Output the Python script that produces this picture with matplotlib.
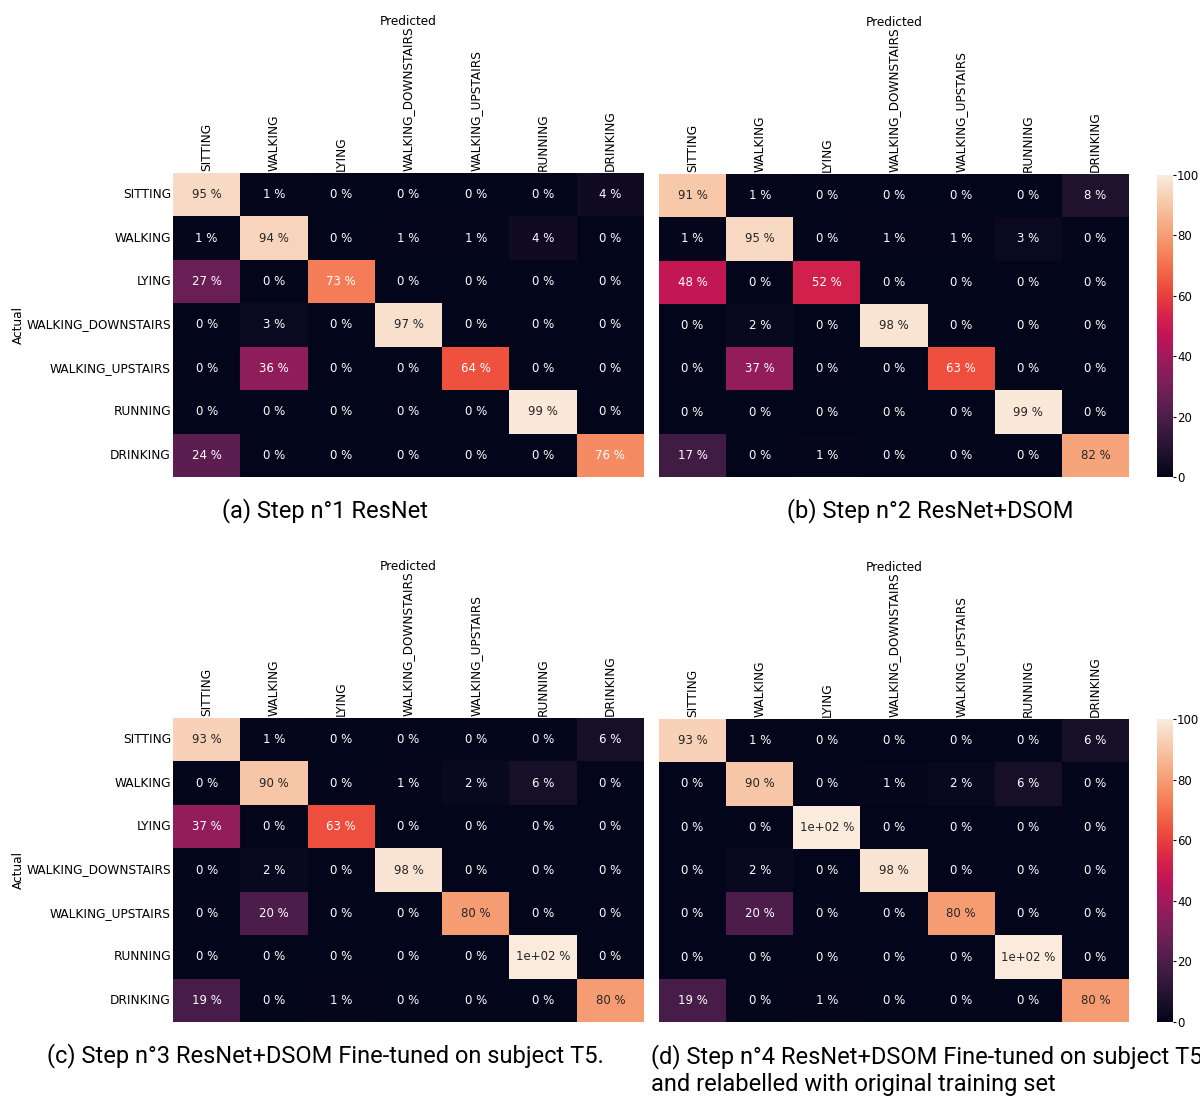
import numpy as np
import matplotlib
matplotlib.use("Agg")
import matplotlib.pyplot as plt
import seaborn as sns

labels = ["SITTING", "WALKING", "LYING", "WALKING_DOWNSTAIRS",
          "WALKING_UPSTAIRS", "RUNNING", "DRINKING"]

# confusion matrices in percent (rows = actual, cols = predicted)
cm_step1 = [[95, 1, 0, 0, 0, 0, 4],
            [1, 94, 0, 1, 1, 4, 0],
            [27, 0, 73, 0, 0, 0, 0],
            [0, 3, 0, 97, 0, 0, 0],
            [0, 36, 0, 0, 64, 0, 0],
            [0, 0, 0, 0, 0, 99, 0],
            [24, 0, 0, 0, 0, 0, 76]]

cm_step2 = [[91, 1, 0, 0, 0, 0, 8],
            [1, 95, 0, 1, 1, 3, 0],
            [48, 0, 52, 0, 0, 0, 0],
            [0, 2, 0, 98, 0, 0, 0],
            [0, 37, 0, 0, 63, 0, 0],
            [0, 0, 0, 0, 0, 99, 0],
            [17, 0, 1, 0, 0, 0, 82]]

cm_step3 = [[93, 1, 0, 0, 0, 0, 6],
            [0, 90, 0, 1, 2, 6, 0],
            [37, 0, 63, 0, 0, 0, 0],
            [0, 2, 0, 98, 0, 0, 0],
            [0, 20, 0, 0, 80, 0, 0],
            [0, 0, 0, 0, 0, 100, 0],
            [19, 0, 1, 0, 0, 0, 80]]

cm_step4 = [[93, 1, 0, 0, 0, 0, 6],
            [0, 90, 0, 1, 2, 6, 0],
            [0, 0, 100, 0, 0, 0, 0],
            [0, 2, 0, 98, 0, 0, 0],
            [0, 20, 0, 0, 80, 0, 0],
            [0, 0, 0, 0, 0, 100, 0],
            [19, 0, 1, 0, 0, 0, 80]]

captions = ["(a) Step n°1 ResNet",
            "(b) Step n°2 ResNet+DSOM",
            "(c) Step n°3 ResNet+DSOM Fine-tuned on subject T5.",
            "(d) Step n°4 ResNet+DSOM Fine-tuned on subject T5\nand relabelled with original training set"]

W, H = 1200, 1097
fig = plt.figure(figsize=(W / 100, H / 100), dpi=100)

def box(x0, y0, x1, y1):
    # pixel box (top-left origin) -> figure fraction
    return [x0 / W, 1 - y1 / H, (x1 - x0) / W, (y1 - y0) / H]

panels = [
    (cm_step1, box(173, 173, 644, 477), None),
    (cm_step2, box(659, 174, 1129, 477), box(1157, 175, 1173, 477)),
    (cm_step3, box(173, 718, 644, 1022), None),
    (cm_step4, box(659, 719, 1129, 1022), box(1157, 719, 1173, 1022)),
]

fs = 8.7
for i, (cm, pos, cpos) in enumerate(panels):
    ax = fig.add_axes(pos)
    cax = fig.add_axes(cpos) if cpos else None
    sns.heatmap(np.array(cm, dtype=float), ax=ax, cmap="rocket", vmin=0, vmax=100,
                annot=True, fmt=".2g", annot_kws={"fontsize": 8.5},
                cbar=cax is not None, cbar_ax=cax,
                xticklabels=labels, yticklabels=labels if i % 2 == 0 else False)
    for t in ax.texts:
        t.set_text(t.get_text() + " %")
    ax.xaxis.tick_top()
    ax.xaxis.set_label_position("top")
    ax.set_xlabel("Predicted", fontsize=fs, labelpad=1)
    ax.set_xticklabels(labels, rotation=90, fontsize=fs)
    ax.tick_params(length=0, pad=1.5)
    if i % 2 == 0:
        ax.set_yticklabels(labels, rotation=0, fontsize=fs)
        ax.set_ylabel("Actual", fontsize=fs, labelpad=1)
    if cax is not None:
        cax.tick_params(labelsize=8.5, length=2, pad=1)
        cax.set_yticks([0, 20, 40, 60, 80, 100])

cap_font = ["Roboto", "DejaVu Sans"]
fig.text(325 / W, 1 - 511 / H, captions[0], ha="center", va="center", fontsize=17, family=cap_font)
fig.text(930 / W, 1 - 511 / H, captions[1], ha="center", va="center", fontsize=17, family=cap_font)
fig.text(325 / W, 1 - 1056 / H, captions[2], ha="center", va="center", fontsize=17, family=cap_font)
fig.text(651 / W, 1 - 1070 / H, captions[3], ha="left", va="center", fontsize=17,
         family=cap_font, linespacing=1.2)

fig.savefig("out.png", dpi=100)
